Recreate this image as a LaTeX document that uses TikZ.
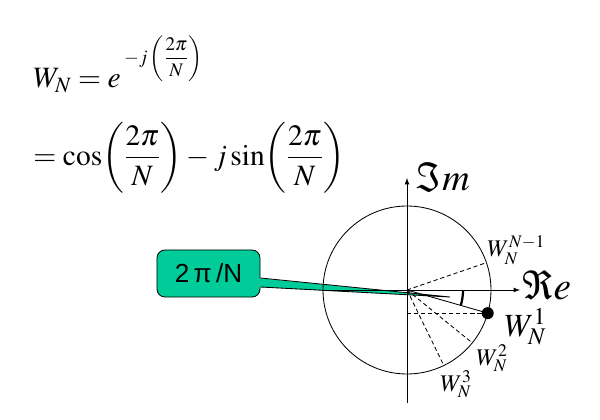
\documentclass[tikz,border=0pt]{standalone}
\usepackage{amsmath}
\usepackage{mathptmx}
\usepackage[no-math]{fontspec}
\newfontfamily\calloutfont{Liberation Sans}
\usepackage{tikz}
\usetikzlibrary{arrows,calc}
\definecolor{callgreen}{RGB}{0,204,153}

\begin{document}
\begin{tikzpicture}[x=0.025cm,y=-0.025cm,line width=0.6pt,
  lbl/.style={anchor=base west,inner sep=0pt},
  ray/.style={dash pattern=on 3pt off 2pt}]
\useasboundingbox (0,0) rectangle (600,420);
% formula
\node[lbl,font=\fontsize{21}{25}\selectfont] (wdef) at (33,88)
  {$W_N=e\,\raisebox{17.5pt}{\fontsize{13.6}{16}\selectfont$-j\left(\dfrac{2\pi}{N}\right)$}$};
\node[lbl,font=\fontsize{21}{25}\selectfont] (euler) at (33,165)
  {$\displaystyle=\cos\!\left(\frac{2\pi}{N}\right)-j\sin\!\left(\frac{2\pi}{N}\right)$};

% callout
\node[draw,fill=callgreen,rounded corners=0.2cm,minimum width=2.575cm,minimum height=1.175cm,
  font=\calloutfont\fontsize{18.6}{22}\selectfont] (angbox) at (208.5,273.5) {2\,π\,/N};
\coordinate (ptop) at (angbox.east |- 0,278);
\coordinate (pbot) at (angbox.east |- 0,287);
\coordinate (tip) at (450,297);
\fill[callgreen] (257,278) -- (tip) -- (257,287) -- cycle;
\draw (ptop) -- (tip) -- (pbot);

% plane
\coordinate (o) at (407,290);
\draw (o) circle (84);
\draw[-latex] (322,290) -- (520,290);
\draw[-latex] (407,403) -- (407,178);
\node[lbl,font=\fontsize{28}{32}\selectfont] (re) at (522,299) {$\Re e$};
\node[lbl,font=\fontsize{27}{32}\selectfont] (im) at (416,191) {$\Im m$};

\coordinate (w1) at ($(o)+(16:84)$);
\foreach \a/\n in {-19/wnm,39/w2,64/w3}{
\draw[ray] (o) -- ++(\a:84) coordinate (\n);
}
\draw (o) -- (w1);
\draw[ray] (o |- w1) -- (w1);
\fill (w1) circle (6);
\draw[line width=1.6pt] (o) ++(0:56) arc[start angle=0,end angle=16,radius=56];

% powers of W
\node[lbl,font=\fontsize{17}{20}\selectfont] (lwnm) at (487,257) {$W_N^{N-1}$};
\node[lbl,font=\fontsize{23}{26}\selectfont] (lw1) at (504,336) {$W_N^1$};
\node[lbl,font=\fontsize{17}{20}\selectfont] (lw2) at (476,365) {$W_N^2$};
\node[lbl,font=\fontsize{17}{20}\selectfont] (lw3) at (440,391) {$W_N^3$};
\end{tikzpicture}
\end{document}
